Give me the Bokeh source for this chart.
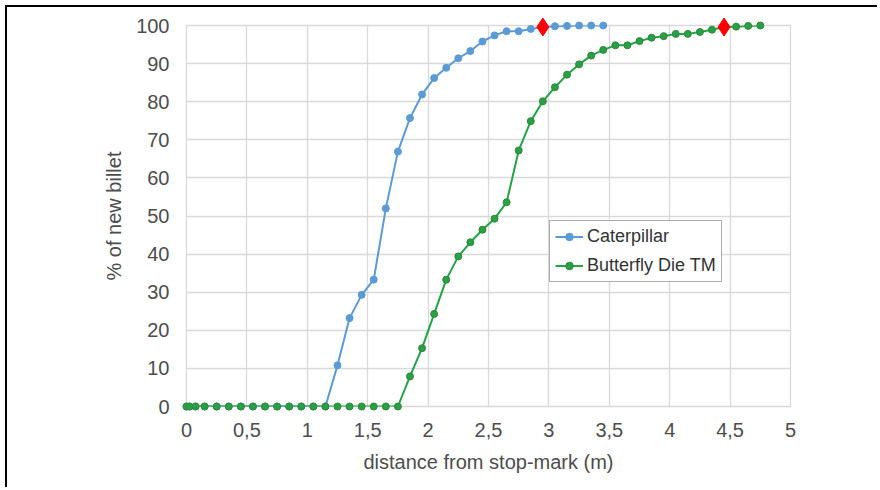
from bokeh.plotting import figure
from bokeh.models import FixedTicker, Legend, LegendItem, Range1d
from bokeh.embed import file_html
from bokeh.resources import INLINE

# ---------------- data ----------------
cat_x = [0, 0.025, 0.075, 0.15, 0.25, 0.35, 0.45, 0.55, 0.65, 0.75, 0.85, 0.95,
         1.05, 1.15, 1.25, 1.35, 1.45, 1.55, 1.65, 1.75, 1.85, 1.95, 2.05, 2.15,
         2.25, 2.35, 2.45, 2.55, 2.65, 2.75, 2.85, 2.95, 3.05, 3.15, 3.25, 3.35, 3.45]
cat_y = [0, 0, 0, 0, 0, 0, 0, 0, 0, 0, 0, 0,
         0, 0, 10.8, 23.2, 29.3, 33.3, 52.0, 66.9, 75.7, 81.9, 86.2, 88.9,
         91.4, 93.3, 95.8, 97.4, 98.5, 98.5, 99.1, 99.6, 99.8, 99.9, 100, 100, 100]

bfly_x = [0, 0.025, 0.075, 0.15, 0.25, 0.35, 0.45, 0.55, 0.65, 0.75, 0.85, 0.95,
          1.05, 1.15, 1.25, 1.35, 1.45, 1.55, 1.65, 1.75, 1.85, 1.95, 2.05, 2.15,
          2.25, 2.35, 2.45, 2.55, 2.65, 2.75, 2.85, 2.95, 3.05, 3.15, 3.25, 3.35,
          3.45, 3.55, 3.65, 3.75, 3.85, 3.95, 4.05, 4.15, 4.25, 4.35, 4.45, 4.55,
          4.65, 4.75]
bfly_y = [0, 0, 0, 0, 0, 0, 0, 0, 0, 0, 0, 0,
          0, 0, 0, 0, 0, 0, 0, 0, 7.9, 15.3, 24.3, 33.3,
          39.4, 43.1, 46.4, 49.3, 53.6, 67.2, 74.9, 80.1, 83.8, 87.1, 89.8, 92.1,
          93.6, 94.8, 94.8, 95.9, 96.8, 97.2, 97.8, 97.8, 98.3, 98.9, 99.6, 99.7,
          99.9, 100]

mark_x = [2.95, 4.45]
mark_y = [99.6, 99.6]

x_ticks = [0, 0.5, 1, 1.5, 2, 2.5, 3, 3.5, 4, 4.5, 5]
x_tick_labels = ["0", "0,5", "1", "1,5", "2", "2,5", "3", "3,5", "4", "4,5", "5"]
y_ticks = [0, 10, 20, 30, 40, 50, 60, 70, 80, 90, 100]

series_names = ["Caterpillar", "Butterfly Die TM"]

# ---------------- figure ----------------
FONT = "Liberation Sans"
BLUE = "#5B9BD5"
GREEN = "#22A446"
GREEN_EDGE = "#3D7F3A"

p = figure(width=872, height=482, output_backend="svg", toolbar_location=None,
           x_range=Range1d(0, 5), y_range=Range1d(0, 100),
           min_border_left=179, min_border_right=89,
           min_border_top=18, min_border_bottom=83)
# frame of the picture (top and left edge)
p.styles = {"border-top": "2px solid #000", "border-left": "2px solid #000",
            "margin-left": "5px", "margin-top": "5px"}

p.background_fill_color = "white"
p.border_fill_color = "white"
p.outline_line_color = "#D9D9D9"
p.outline_line_width = 1.3

p.xaxis.ticker = FixedTicker(ticks=x_ticks)
p.yaxis.ticker = FixedTicker(ticks=y_ticks)
p.xaxis.major_label_overrides = {t: l for t, l in zip(x_ticks, x_tick_labels)}
p.xgrid.ticker = FixedTicker(ticks=x_ticks)
p.ygrid.ticker = FixedTicker(ticks=y_ticks)

for g in (p.xgrid, p.ygrid):
    g.grid_line_color = "#D9D9D9"
    g.grid_line_width = 1.3

for ax in (p.xaxis, p.yaxis):
    ax.axis_line_color = None
    ax.major_tick_line_color = None
    ax.minor_tick_line_color = None
    ax.major_tick_out = 0
    ax.major_tick_in = 0
    ax.major_label_text_font = FONT
    ax.major_label_text_font_size = "20px"
    ax.major_label_text_color = "#4D4D4D"
    ax.axis_label_text_font = FONT
    ax.axis_label_text_font_size = "20px"
    ax.axis_label_text_font_style = "normal"
    ax.axis_label_text_color = "#4D4D4D"

p.xaxis.axis_label = "distance from stop-mark (m)"
p.yaxis.axis_label = "% of new billet"
p.xaxis.major_label_standoff = 16
p.yaxis.major_label_standoff = 17
p.xaxis.axis_label_standoff = 11
p.yaxis.axis_label_standoff = 8

# Caterpillar
cl = p.line(cat_x, cat_y, line_color=BLUE, line_width=2)
cs = p.scatter(cat_x, cat_y, marker="circle", size=7, fill_color=BLUE,
               line_color=BLUE, level="overlay")
# Butterfly
bl = p.line(bfly_x, bfly_y, line_color=GREEN, line_width=2)
bs = p.scatter(bfly_x, bfly_y, marker="circle", size=7, fill_color=GREEN,
               line_color=GREEN_EDGE, line_width=1, level="overlay")
# red highlighted points
p.scatter(mark_x, mark_y, marker="diamond", size=18, fill_color="#FF0000",
          line_color="#FF0000", level="overlay")

legend = Legend(items=[LegendItem(label=series_names[0], renderers=[cl, cs]),
                       LegendItem(label=series_names[1], renderers=[bl, bs])],
                location=(363, 124))
legend.label_text_font = FONT
legend.label_text_font_size = "18px"
legend.label_text_color = "#333333"
legend.border_line_color = "#595959"
legend.border_line_width = 1.5
legend.background_fill_color = "white"
legend.background_fill_alpha = 1
legend.padding = 5
legend.margin = 0
legend.spacing = 8
legend.label_height = 19
legend.glyph_height = 19
legend.glyph_width = 28
legend.label_standoff = 4
p.add_layout(legend, "center")

open("out.html", "w").write(file_html(p, INLINE))
